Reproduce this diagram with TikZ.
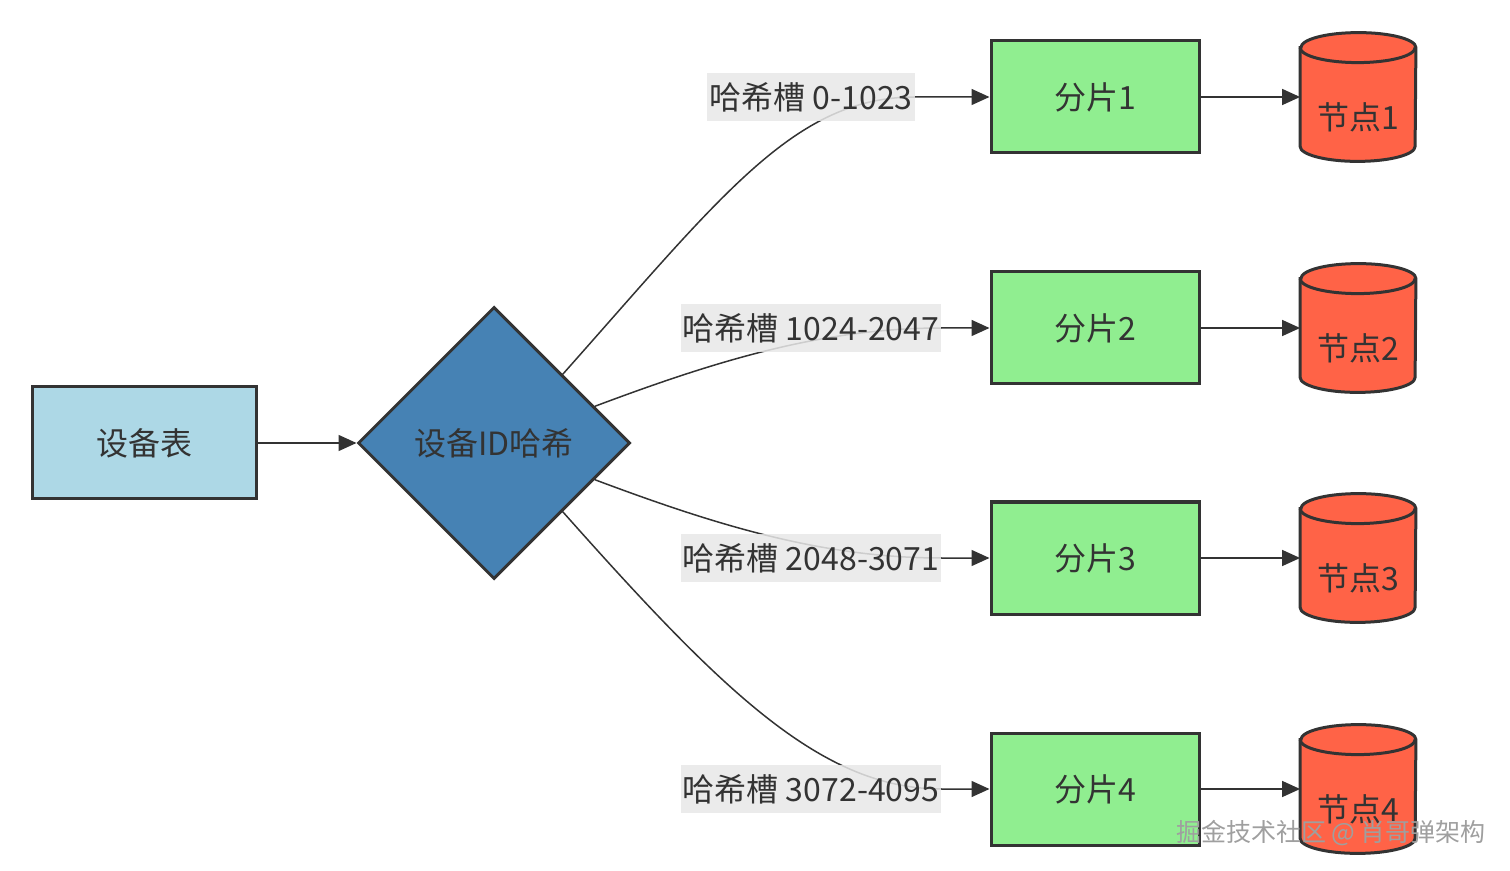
\documentclass[tikz,border=0pt]{standalone}
\usepackage{fontspec}
\setmainfont{Noto Sans CJK SC}
\usetikzlibrary{arrows.meta,shapes.geometric,backgrounds,positioning}
\definecolor{ink}{HTML}{333333}
\definecolor{slotbg}{HTML}{E8E8E8}
\definecolor{lightblue}{HTML}{ADD8E6}
\definecolor{steelblue}{HTML}{4682B4}
\definecolor{shardgreen}{HTML}{90EE90}
\definecolor{tomatored}{HTML}{FF6347}
\tikzstyle{every picture}+=[font=\fontsize{16pt}{19pt}\selectfont]
% cylinder drawn round a named box node
\newcommand{\dbshape}[1]{%
	\filldraw [draw=ink, fill=tomatored, line width=1.5pt]
		([yshift=-7.5pt]#1.north west) -- ([yshift=7.5pt]#1.south west)
		arc [start angle=180, end angle=360, x radius=28.75pt, y radius=7.5pt]
		-- ([yshift=-7.5pt]#1.north east)
		arc [start angle=0, end angle=180, x radius=28.75pt, y radius=7.5pt] -- cycle;
	\draw [draw=ink, line width=1.5pt] ([yshift=-7.5pt]#1.north west)
		arc [start angle=180, end angle=360, x radius=28.75pt, y radius=7.5pt];}

\begin{document}
\begin{tikzpicture}
	[x=0.5pt, y=-0.5pt, text=ink,
	table/.style	= {rectangle, draw=ink, line width=1.5pt, fill=lightblue, minimum width=112pt, minimum height=56pt},
	hasher/.style	= {diamond, draw=ink, line width=1.5pt, fill=steelblue, inner sep=0pt, minimum width=136pt, minimum height=136pt},
	shard/.style	= {rectangle, draw=ink, line width=1.5pt, fill=shardgreen, minimum width=104pt, minimum height=56pt},
	store/.style	= {rectangle, draw=none, inner sep=0pt, minimum width=57.5pt, minimum height=64pt},
	slot/.style		= {rectangle, fill=slotbg, fill opacity=0.85, text opacity=1, inner xsep=1pt, minimum height=24pt},
	paths/.style	= {-{Triangle[length=9pt, width=8pt]}, draw=ink, line width=0.75pt}]

	\useasboundingbox (0, 0) rectangle (1510, 871);

	\node at (144, 443)		[table]		(tab)	{设备表};
	\node at (494, 443)		[hasher]	(hash)	{设备ID哈希};

	\node at (1095, 97)		[shard]		(s1)	{分片1};
	\node at (1095, 328)	[shard]		(s2)	{分片2};
	\node at (1095, 558)	[shard]		(s3)	{分片3};
	\node at (1095, 789)	[shard]		(s4)	{分片4};

	\node at (1358, 97)		[store]		(n1)	{};
	\node at (1358, 328)	[store]		(n2)	{};
	\node at (1358, 558)	[store]		(n3)	{};
	\node at (1358, 789)	[store]		(n4)	{};
	\dbshape{n1} \dbshape{n2} \dbshape{n3} \dbshape{n4}
	\node at (1358, 117)				(l1)	{节点1};
	\node at (1358, 348)				(l2)	{节点2};
	\node at (1358, 578)				(l3)	{节点3};
	\node at (1358, 809)				(l4)	{节点4};

	\node at (811, 97)		[slot]		(t1)	{哈希槽 0-1023};
	\node at (811, 328)		[slot]		(t2)	{哈希槽 1024-2047};
	\node at (811, 558)		[slot]		(t3)	{哈希槽 2048-3071};
	\node at (811, 789)		[slot]		(t4)	{哈希槽 3072-4095};

	\draw [paths] (tab.east) -- (hash.west);

	\begin{scope}[on background layer]
	\draw [paths] (hash.north east) .. controls +(160, -180) and +(-120, 0) .. (t1.east) -- (s1.west);
	\draw [paths] (hash.20) .. controls +(120, -45) and +(-120, 0) .. (t2.east) -- (s2.west);
	\draw [paths] (hash.-20) .. controls +(120, 45) and +(-120, 0) .. (t3.east) -- (s3.west);
	\draw [paths] (hash.south east) .. controls +(160, 180) and +(-120, 0) .. (t4.east) -- (s4.west);
	\end{scope}

	\draw [paths] (s1.east) -- (n1.west);
	\draw [paths] (s2.east) -- (n2.west);
	\draw [paths] (s3.east) -- (n3.west);
	\draw [paths] (s4.east) -- (n4.west);

	\node at (1331, 833)	[text=gray!75, font=\fontsize{12.5pt}{15pt}\selectfont]	(wm)	{掘金技术社区 @ 肖哥弹架构};

\end{tikzpicture}
\end{document}
